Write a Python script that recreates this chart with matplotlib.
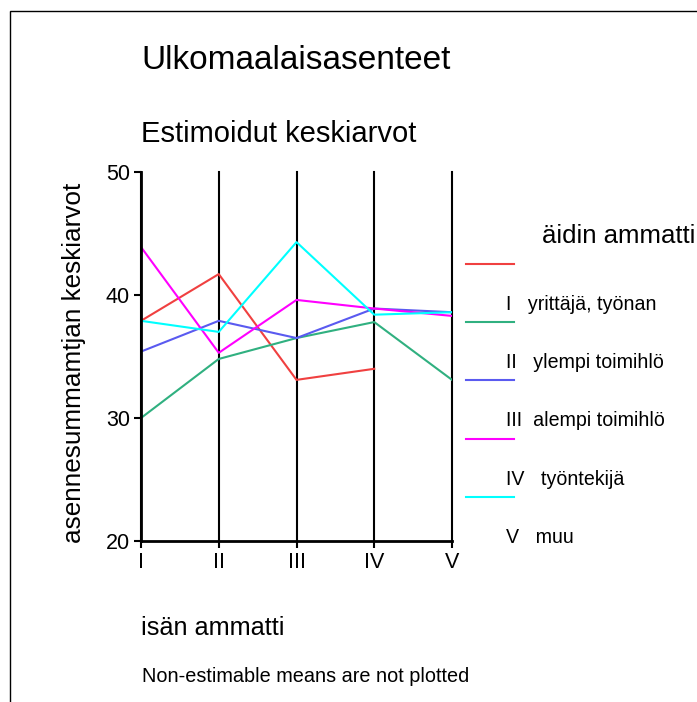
import matplotlib as mpl
mpl.use('agg')
import matplotlib.pyplot as plt
from matplotlib.lines import Line2D
from matplotlib.patches import Rectangle
import numpy as np

plt.rcParams['font.family'] = ['Liberation Sans', 'DejaVu Sans']

# isän ammatti (x categories)
categories = ['I', 'II', 'III', 'IV', 'V']

# äidin ammatti (series)
series_names = ['I   yrittäjä, työnan', 'II   ylempi toimihlö', 'III  alempi toimihlö',
                'IV   työntekijä', 'V   muu']
colors = ['#f04040', '#30b080', '#5a5af0', '#ff00ff', '#00ffff']

red_vals = [37.9, 41.7, 33.1, 34.0, np.nan]
green_vals = [30.0, 34.8, 36.5, 37.8, 33.1]
blue_vals = [35.4, 37.9, 36.5, 38.9, 38.6]
magenta_vals = [43.9, 35.3, 39.6, 38.9, 38.3]
cyan_vals = [37.9, 37.0, 44.3, 38.4, 38.6]
all_vals = [red_vals, green_vals, blue_vals, magenta_vals, cyan_vals]

W, H = 697, 702
fig = plt.figure(figsize=(W / 100, H / 100), dpi=100)


def fy(py):
    # pixel row -> figure fraction
    return 1 - py / H


# frame around the figure
fig.add_artist(Rectangle((10 / W, -0.1), 1.2, fy(11) + 0.1, transform=fig.transFigure,
                         fill=False, edgecolor='black', linewidth=1))

ax = fig.add_axes([141 / W, fy(541), (452 - 141) / W, (541 - 172) / H])
x = np.arange(len(categories))
for vals, c in zip(all_vals, colors):
    ax.plot(x, vals, color=c, linewidth=1.5)

for xi in x:
    ax.axvline(xi, color='black', linewidth=1.5, zorder=0, clip_on=False)

ax.set_xlim(0, len(categories) - 1)
ax.set_ylim(20, 50)
ax.set_yticks([20, 30, 40, 50])
ax.set_xticks(x)
ax.set_xticklabels(categories)
ax.tick_params(labelsize=15.5, length=5, width=1.5, pad=3)
for s in ['top', 'right']:
    ax.spines[s].set_visible(False)
for s in ['left', 'bottom']:
    ax.spines[s].set_linewidth(2)

fig.text(74 / W, fy(363), 'asennesummamtjan keskiarvot', fontsize=18.8,
         rotation=90, ha='center', va='center')

fig.text(141 / W, fy(69), 'Ulkomaalaisasenteet', fontsize=24, va='baseline')
fig.text(141 / W, fy(142), 'Estimoidut keskiarvot', fontsize=21, va='baseline')
fig.text(141 / W, fy(635), 'isän ammatti', fontsize=18.2, va='baseline')
fig.text(142 / W, fy(682), 'Non-estimable means are not plotted', fontsize=14.3, va='baseline')

# legend (SPSS-style: label sits below its line)
fig.text(542 / W, fy(243), 'äidin ammatti', fontsize=18.5, va='baseline')
for i, (name, c) in enumerate(zip(series_names, colors)):
    ly = 264 + 58.2 * i
    fig.add_artist(Line2D([466 / W, 514 / W], [fy(ly), fy(ly)],
                          transform=fig.transFigure, color=c, linewidth=1.5))
    fig.text(506 / W, fy(ly + 46), name, fontsize=14.1, va='baseline')

fig.savefig('out.png', dpi=100)
